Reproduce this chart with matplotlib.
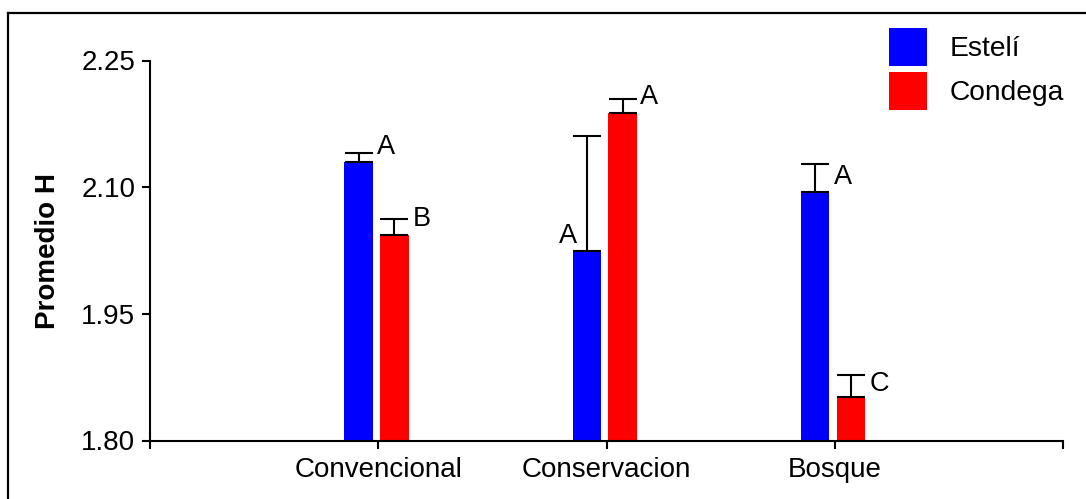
import matplotlib
matplotlib.use("Agg")
import matplotlib.pyplot as plt
from matplotlib.lines import Line2D
import numpy as np

categories = ["Convencional", "Conservacion", "Bosque"]
series_names = ["Estelí", "Condega"]
esteli_mean = [2.130, 2.024, 2.094]
esteli_err = [0.011, 0.137, 0.034]
condega_mean = [2.043, 2.188, 1.851]
condega_err = [0.019, 0.017, 0.027]
esteli_letters = ["A", "A", "A"]
condega_letters = ["B", "A", "C"]
yticks = [1.80, 1.95, 2.10, 2.25]

plt.rcParams['font.family'] = ['Liberation Sans', 'DejaVu Sans']

W, H = 1086, 499
fig = plt.figure(figsize=(W / 100, H / 100), dpi=100)
ax = fig.add_axes([150 / W, 1 - 440.5 / H, 913 / W, 380 / H])

x = np.arange(1, len(categories) + 1)
width = 0.125
off_b, off_r = -0.086, 0.071
colors = ["#0000ff", "#ff0000"]

ax.bar(x + off_b, esteli_mean, width, color=colors[0], label=series_names[0], zorder=2)
ax.bar(x + off_r, condega_mean, width, color=colors[1], label=series_names[1], zorder=2)

for xs, m, e in [(x + off_b, esteli_mean, esteli_err), (x + off_r, condega_mean, condega_err)]:
    ax.errorbar(xs, m, yerr=[np.zeros(len(m)), e], fmt='none', ecolor='black',
                elinewidth=1.5, capsize=10.2, capthick=1.5, zorder=3)

ax.set_ylim(1.80, 2.25)
ax.set_xlim(0, 4)
ax.set_yticks(yticks)
ax.set_yticklabels([f"{v:.2f}" for v in yticks])
ax.set_xticks([0] + list(x) + [4])
ax.set_xticklabels([""] + categories + [""])

for s in ["top", "right"]:
    ax.spines[s].set_visible(False)
for s in ["left", "bottom"]:
    ax.spines[s].set_linewidth(1.5)
ax.tick_params(axis='both', length=5.5, width=1.5, labelsize=20, pad=5)
ax.tick_params(axis='x', pad=6.5)

ax.set_ylabel("Promedio H", fontsize=20, fontweight='bold')
ax.yaxis.set_label_coords(-89 / 913, 0.5)

# significance letters: (anchor side, dx, dy) in points
letter_pos_b = [("right", 3, 4), ("left", 3, 2), ("right", 3, -9.5)]
letter_pos_r = [("right", 3, 0), ("right", 2, 1), ("right", 3, -7)]
for xs, m, e, letters, poss in [(x + off_b, esteli_mean, esteli_err, esteli_letters, letter_pos_b),
                                (x + off_r, condega_mean, condega_err, condega_letters, letter_pos_r)]:
    for xi, mi, ei, lt, (side, dx, dy) in zip(xs, m, e, letters, poss):
        if side == "left":
            ax.annotate(lt, (xi - width / 2, mi), xytext=(dx, dy), textcoords='offset points',
                        ha='right', va='bottom', fontsize=19.5)
        else:
            ax.annotate(lt, (xi + width / 2, mi + ei), xytext=(dx, dy), textcoords='offset points',
                        ha='left', va='center', fontsize=19.5)

ax.legend(loc='upper left', bbox_to_anchor=(889 / W, 1 - 28 / H),
          bbox_transform=fig.transFigure, frameon=False, fontsize=20.3,
          handlelength=1.355, handleheight=1.72, labelspacing=0.18,
          handletextpad=0.8, borderpad=0, borderaxespad=0)

# figure border (top and left)
fig.add_artist(Line2D([8 / W, 1.0], [1 - 13 / H, 1 - 13 / H], transform=fig.transFigure,
                      color='black', linewidth=1.6))
fig.add_artist(Line2D([8 / W, 8 / W], [0, 1 - 13 / H], transform=fig.transFigure,
                      color='black', linewidth=1.6))

fig.savefig("out.png", dpi=100)
